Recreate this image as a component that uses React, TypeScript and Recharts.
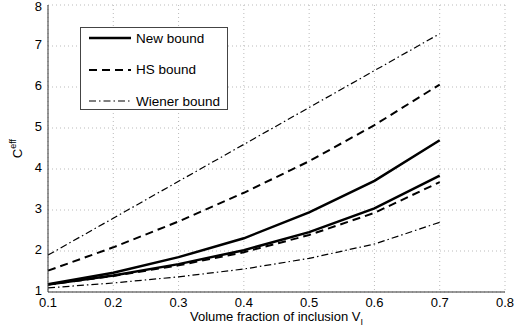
import { LineChart, Line, XAxis, YAxis, CartesianGrid } from 'recharts';

const fractions = [0.1, 0.2, 0.3, 0.4, 0.5, 0.6, 0.7];
const newUpper = [1.19, 1.47, 1.85, 2.31, 2.94, 3.71, 4.7];
const newLower = [1.18, 1.4, 1.68, 2.02, 2.46, 3.04, 3.84];
const hsUpper = [1.52, 2.09, 2.72, 3.42, 4.19, 5.07, 6.06];
const hsLower = [1.18, 1.39, 1.65, 1.97, 2.39, 2.93, 3.68];
const wienerUpper = [1.9, 2.8, 3.7, 4.6, 5.5, 6.4, 7.3];
const wienerLower = [1.1, 1.22, 1.37, 1.56, 1.82, 2.17, 2.7];

const xTicks = [0.1, 0.2, 0.3, 0.4, 0.5, 0.6, 0.7, 0.8];
const yTicks = [1, 2, 3, 4, 5, 6, 7, 8];

const legendItems = [
  { name: 'New bound', dash: undefined, width: 2.5 },
  { name: 'HS bound', dash: '8 5', width: 2 },
  { name: 'Wiener bound', dash: '7 3 1.5 3', width: 1.2 },
];

const data = fractions.map((f, i) => ({
  f,
  newUpper: newUpper[i],
  newLower: newLower[i],
  hsUpper: hsUpper[i],
  hsLower: hsLower[i],
  wienerUpper: wienerUpper[i],
  wienerLower: wienerLower[i],
}));

const font = 'Liberation Sans, Arial, sans-serif';

function BoundsLegend() {
  return (
    <div
      style={{
        position: 'absolute',
        left: 80,
        top: 27,
        width: 148,
        height: 83,
        border: '1px solid #444',
        background: '#fff',
        boxSizing: 'border-box',
        fontFamily: font,
        fontSize: 13.5,
      }}
    >
      {legendItems.map((it, i) => (
        <div
          key={it.name}
          style={{ position: 'absolute', left: 0, top: 1 + i * 31.5, height: 18, display: 'flex', alignItems: 'center' }}
        >
          <svg width={47} height={10} style={{ marginLeft: 8 }}>
            <line x1={0} y1={5} x2={42} y2={5} stroke="#000" strokeWidth={it.width} strokeDasharray={it.dash} />
          </svg>
          <span>{it.name}</span>
        </div>
      ))}
    </div>
  );
}

function XLabel(props: any) {
  const { viewBox } = props;
  const cx = viewBox.x + viewBox.width / 2;
  return (
    <text x={cx} y={viewBox.y + 29} textAnchor="middle" fontFamily={font} fontSize={13} fill="#000">
      Volume fraction of inclusion V
      <tspan fontSize={9} dy={4}>I</tspan>
    </text>
  );
}

function YLabel(props: any) {
  const { viewBox } = props;
  const cy = viewBox.y + viewBox.height / 2;
  const x = 22;
  return (
    <text x={x} y={cy} transform={`rotate(-90 ${x} ${cy})`} textAnchor="middle" fontFamily={font} fontSize={13} fill="#000">
      C<tspan fontSize={9} dy={-6}>eff</tspan>
    </text>
  );
}

export default function App() {
  return (
    <div style={{ position: 'absolute', left: 0, top: 0, width: 518, height: 328, background: '#fff' }}>
      <LineChart width={518} height={328} data={data} margin={{ top: 5, right: 13, bottom: 0, left: 0 }}>
        <CartesianGrid stroke="#bbb" strokeDasharray="1 3" />
        <XAxis
          dataKey="f"
          type="number"
          domain={[0.1, 0.8]}
          ticks={xTicks}
          tickFormatter={(v) => v.toFixed(1)}
          tickLine={false}
          axisLine={{ stroke: '#333' }}
          height={36}
          tick={{ fontFamily: font, fontSize: 13, fill: '#000', dy: -2 }}
          label={<XLabel />}
        />
        <YAxis
          type="number"
          domain={[1, 8]}
          ticks={yTicks}
          tickLine={false}
          axisLine={{ stroke: '#333' }}
          width={48}
          tick={{ fontFamily: font, fontSize: 13, fill: '#000', dx: 2, dy: -2 }}
          label={<YLabel />}
        />
        <Line dataKey="wienerUpper" stroke="#000" strokeWidth={1.2} strokeDasharray="7 3 1.5 3" dot={false} isAnimationActive={false} />
        <Line dataKey="wienerLower" stroke="#000" strokeWidth={1.2} strokeDasharray="7 3 1.5 3" dot={false} isAnimationActive={false} />
        <Line dataKey="hsUpper" stroke="#000" strokeWidth={2} strokeDasharray="8 5" dot={false} isAnimationActive={false} />
        <Line dataKey="hsLower" stroke="#000" strokeWidth={2} strokeDasharray="8 5" dot={false} isAnimationActive={false} />
        <Line dataKey="newUpper" stroke="#000" strokeWidth={2.5} dot={false} isAnimationActive={false} />
        <Line dataKey="newLower" stroke="#000" strokeWidth={2.5} dot={false} isAnimationActive={false} />
      </LineChart>
      <BoundsLegend />
    </div>
  );
}
